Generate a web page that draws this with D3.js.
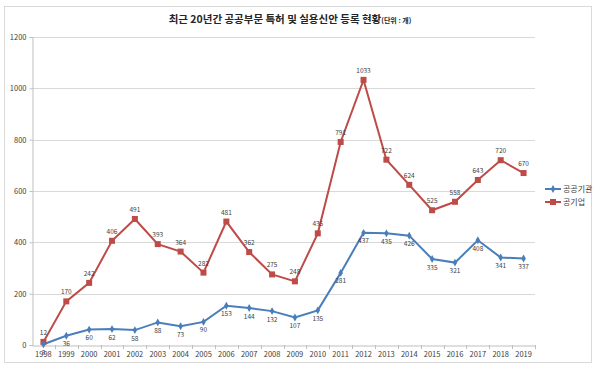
<!DOCTYPE html>
<html><head><meta charset="utf-8">
<script src="https://cdn.jsdelivr.net/npm/d3@7"></script>
<style>body{margin:0;background:#fff}svg{display:block}</style>
</head><body>
<svg id="c" width="600" height="369"></svg>
<script>
const years = ["1998","1999","2000","2001","2002","2003","2004","2005","2006","2007","2008","2009","2010","2011","2012","2013","2014","2015","2016","2017","2018","2019"];
const publicAgency = [3,36,60,62,58,88,73,90,153,144,132,107,135,281,437,435,426,335,321,408,341,337];
const publicCompany = [12,170,242,406,491,393,364,282,481,362,275,248,435,791,1033,722,624,525,558,643,720,670];
const yTicks = [0,200,400,600,800,1000,1200];
const seriesNames = ["공공기관","공기업"];

const svg = d3.select("#c");
const font = "'Malgun Gothic','Noto Sans CJK KR',sans-serif";
svg.append("rect").attr("x",4.5).attr("y",6.5).attr("width",587).attr("height",356)
  .attr("fill","#fff").attr("stroke","#d9d9d9");

const L=32,R=535,T=37,B=345;
const x = d3.scaleBand().domain(years).range([L,R]);
const y = d3.scaleLinear().domain([0,1200]).range([B,T]);
const cx = d => x(d)+x.bandwidth()/2;

// title
const title = svg.append("text").attr("x",290).attr("y",23).attr("text-anchor","middle")
  .attr("font-family",font).attr("fill","#262626");
title.append("tspan").attr("font-size",10.5).attr("font-weight","bold").text("최근 20년간 공공부문 특허 및 실용신안 등록 현황");
title.append("tspan").attr("font-size",7).attr("font-weight","bold").text("(단위 : 개)");

// gridlines
svg.append("g").selectAll("line").data(yTicks.filter(d=>d>0)).join("line")
  .attr("x1",L).attr("x2",R).attr("y1",d=>Math.round(y(d))+0.5).attr("y2",d=>Math.round(y(d))+0.5)
  .attr("stroke","#d9d9d9").attr("stroke-width",1);

// y axis
const ya = svg.append("g").attr("transform",`translate(${L+0.5},0)`)
  .call(d3.axisLeft(y).tickValues(yTicks).tickFormat(d3.format("d")).tickSize(3).tickPadding(3));
ya.select(".domain").attr("stroke","#bfbfbf");
ya.selectAll(".tick line").attr("stroke","#bfbfbf");
ya.selectAll("text").attr("font-family",font).attr("font-size",7.5).attr("fill","#404040");

// x axis
const xa = svg.append("g").attr("transform",`translate(0,${B+0.5})`)
  .call(d3.axisBottom(x).tickSize(0).tickPadding(6));
xa.select(".domain").attr("stroke","#bfbfbf");
xa.selectAll("text").attr("font-family",font).attr("font-size",7.5).attr("fill","#404040");
svg.append("g").selectAll("line").data(years).join("line")
  .attr("x1",(d,i)=>Math.round(L + x.step()*(i+1))+0.5).attr("x2",(d,i)=>Math.round(L + x.step()*(i+1))+0.5)
  .attr("y1",B).attr("y2",B+4).attr("stroke","#bfbfbf");

const line = d3.line().x((d,i)=>cx(years[i])).y(d=>y(d));
const blue="#4a7ebb", red="#be4b48";

svg.append("path").datum(publicCompany).attr("d",line).attr("fill","none").attr("stroke",red).attr("stroke-width",2);
svg.append("path").datum(publicAgency).attr("d",line).attr("fill","none").attr("stroke",blue).attr("stroke-width",2);

svg.append("g").selectAll("rect").data(publicCompany).join("rect")
  .attr("x",(d,i)=>cx(years[i])-3).attr("y",d=>y(d)-3).attr("width",6).attr("height",6).attr("fill",red);
svg.append("g").selectAll("path").data(publicAgency).join("path")
  .attr("d",d3.symbol(d3.symbolDiamond,18)).attr("transform",(d,i)=>`translate(${cx(years[i])},${y(d)})`).attr("fill",blue);

svg.append("g").selectAll("text").data(publicCompany).join("text")
  .attr("x",(d,i)=>cx(years[i])).attr("y",d=>y(d)-7).attr("text-anchor","middle")
  .attr("font-family",font).attr("font-size",6.5).attr("fill","#404040").text(d=>d);
svg.append("g").selectAll("text").data(publicAgency).join("text")
  .attr("x",(d,i)=>cx(years[i])).attr("y",d=>y(d)+10.5).attr("text-anchor","middle")
  .attr("font-family",font).attr("font-size",6.5).attr("fill","#404040").text(d=>d);

// legend
const lg = svg.append("g").attr("transform","translate(545,189)");
[[blue,"d"],[red,"s"]].forEach((s,i)=>{
  const g = lg.append("g").attr("transform",`translate(0,${i*13})`);
  g.append("line").attr("x1",0).attr("x2",16).attr("stroke",s[0]).attr("stroke-width",2);
  if(s[1]==="s") g.append("rect").attr("x",5).attr("y",-3).attr("width",6).attr("height",6).attr("fill",s[0]);
  else g.append("path").attr("d",d3.symbol(d3.symbolDiamond,18)).attr("transform","translate(8,0)").attr("fill",s[0]);
  g.append("text").attr("x",18).attr("y",3).attr("font-family",font).attr("font-size",8).attr("fill","#404040").text(seriesNames[i]);
});
</script>
</body></html>
